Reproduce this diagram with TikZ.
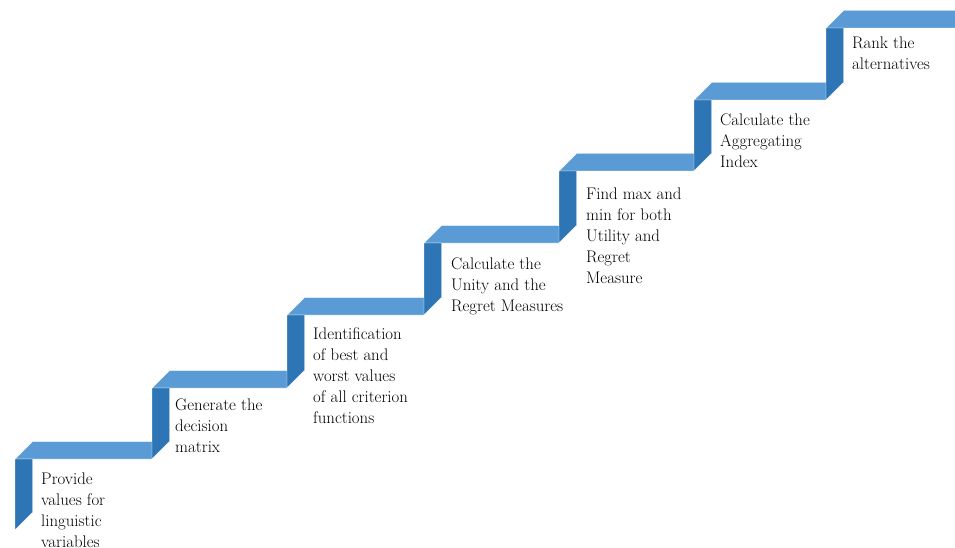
\documentclass[tikz,border=0pt]{standalone}
\usepackage{fontspec}
\definecolor{treadblue}{HTML}{5B9BD5}
\definecolor{riserblue}{HTML}{2E75B6}
\begin{document}
\begin{tikzpicture}[x=1pt,y=-1pt,
  tread/.style={fill=treadblue,draw=white,line width=0.4pt,line join=round},
  riser/.style={fill=riserblue,draw=white,line width=0.4pt,line join=round},
  steptext/.style={anchor=north west,inner sep=0pt,align=left,
    font=\rmfamily\fontsize{16.8}{21}\selectfont\addfontfeature{FakeBold=0.35}}]
\useasboundingbox (0,0) rectangle (955,548);
\begin{scope}
\clip (0,0) rectangle (955,548);
% depth of the 45-degree bevel
\def\d{17.5}
% x of riser, y of riser top, y of riser bottom, x of next riser
\foreach \x/\y/\yp/\xn in {15/459/530/152, 152/388/459/287, 287/315/388/424,
    424/243/315/559, 559/171/243/694, 694/100/171/826, 826/28/100/965}{
  \fill[tread] (\x,\y) -- (\xn,\y) -- (\xn+\d,\y-\d) -- (\x+\d,\y-\d) -- cycle;
  \fill[riser] (\x,\y) -- (\x+\d,\y) -- (\x+\d,\yp-\d) -- (\x,\yp) -- cycle;
}
\end{scope}
% step labels (top of node = first baseline - 14pt)
\newcommand{\fl}{\rule{0pt}{14pt}}
\node[steptext] (s1) at (41,470) {\fl Provide\\values for\\linguistic\\variables};
\node[steptext] (s2) at (175,396) {\fl Generate the\\decision\\matrix};
\node[steptext] (s3) at (313,325) {\fl Identification\\of best and\\worst values\\of all criterion\\functions};
\node[steptext] (s4) at (451,255) {\fl Calculate the\\Unity and the\\Regret Measures};
\node[steptext] (s5) at (586,185) {\fl Find max and\\min for both\\Utility and\\Regret\\Measure};
\node[steptext] (s6) at (720,111) {\fl Calculate the\\Aggregating\\Index};
\node[steptext] (s7) at (852,34) {\fl Rank the\\alternatives};
\end{tikzpicture}
\end{document}
